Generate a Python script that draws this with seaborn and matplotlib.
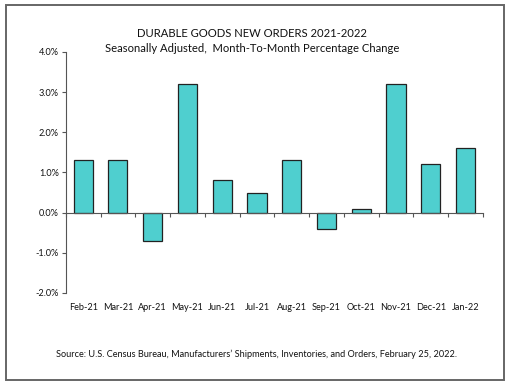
import matplotlib
matplotlib.use("Agg")
import matplotlib.pyplot as plt
from matplotlib.patches import Rectangle
from matplotlib.ticker import FuncFormatter, FixedLocator
import numpy as np
import pandas as pd
import seaborn as sns

# dados
months = ["Feb-21", "Mar-21", "Apr-21", "May-21", "Jun-21", "Jul-21",
          "Aug-21", "Sep-21", "Oct-21", "Nov-21", "Dec-21", "Jan-22"]
pct_change = [1.3, 1.3, -0.7, 3.2, 0.8, 0.5, 1.3, -0.4, 0.1, 3.2, 1.2, 1.6]
y_ticks = [-2.0, -1.0, 0.0, 1.0, 2.0, 3.0, 4.0]

title = "DURABLE GOODS NEW ORDERS 2021-2022\nSeasonally Adjusted,  Month-To-Month Percentage Change"
source = "Source: U.S. Census Bureau, Manufacturers\u2019 Shipments, Inventories, and Orders, February 25, 2022."

sns.set_style("white")
plt.rcParams["font.family"] = ["Lato", "DejaVu Sans"]

df = pd.DataFrame({"month": months, "pct": pct_change})

fig = plt.figure(figsize=(5.1, 3.84), dpi=100)
ax = fig.add_axes([0.129, 0.237, 0.818, 0.628])

sns.barplot(data=df, x="month", y="pct", color="#4fcfcf", saturation=1,
            edgecolor="#222222", linewidth=0.9, width=0.55, ax=ax)

ax.set_ylim(y_ticks[0], y_ticks[-1])
ax.set_xlim(-0.5, len(months) - 0.5)
ax.set_yticks(y_ticks)
ax.yaxis.set_major_formatter(FuncFormatter(lambda v, _: f"{v:.1f}%"))
ax.tick_params(axis="y", direction="out", length=3, width=0.8, color="#555555",
               labelsize=6.6, pad=2, left=True, labelcolor="#111111")
ax.set_xlabel("")
ax.set_ylabel("")

# eixo x na linha do zero, marcas entre as categorias
for s in ["top", "right"]:
    ax.spines[s].set_visible(False)
ax.spines["left"].set_color("#555555")
ax.spines["left"].set_linewidth(0.8)
ax.spines["bottom"].set_position(("data", 0))
ax.spines["bottom"].set_color("#555555")
ax.spines["bottom"].set_linewidth(0.8)
ax.xaxis.set_major_locator(FixedLocator(np.arange(len(months) + 1) - 0.5))
ax.xaxis.set_major_formatter(FuncFormatter(lambda v, _: ""))
ax.tick_params(axis="x", direction="out", length=3, width=0.8, color="#555555", bottom=True)

# rótulos dos meses embaixo do gráfico
ax2 = ax.twiny()
ax2.set_xlim(ax.get_xlim())
ax2.xaxis.set_ticks_position("bottom")
ax2.xaxis.set_label_position("bottom")
ax2.set_xticks(range(len(months)))
ax2.set_xticklabels(months)
ax2.tick_params(axis="x", length=0, labelsize=6.6, pad=7, labelcolor="#111111")
for s in ax2.spines.values():
    s.set_visible(False)

fig.text(0.494, 0.892, title, ha="center", va="center", fontsize=8.1,
         linespacing=1.45, color="#111111")
fig.text(0.502, 0.078, source, ha="center", va="center", fontsize=6.6, color="#111111")

# moldura externa
fig.patches.append(Rectangle((0.012, 0.01), 0.976, 0.977, transform=fig.transFigure,
                             fill=False, edgecolor="#666666", linewidth=1.4))

fig.savefig("out.png", dpi=100)
